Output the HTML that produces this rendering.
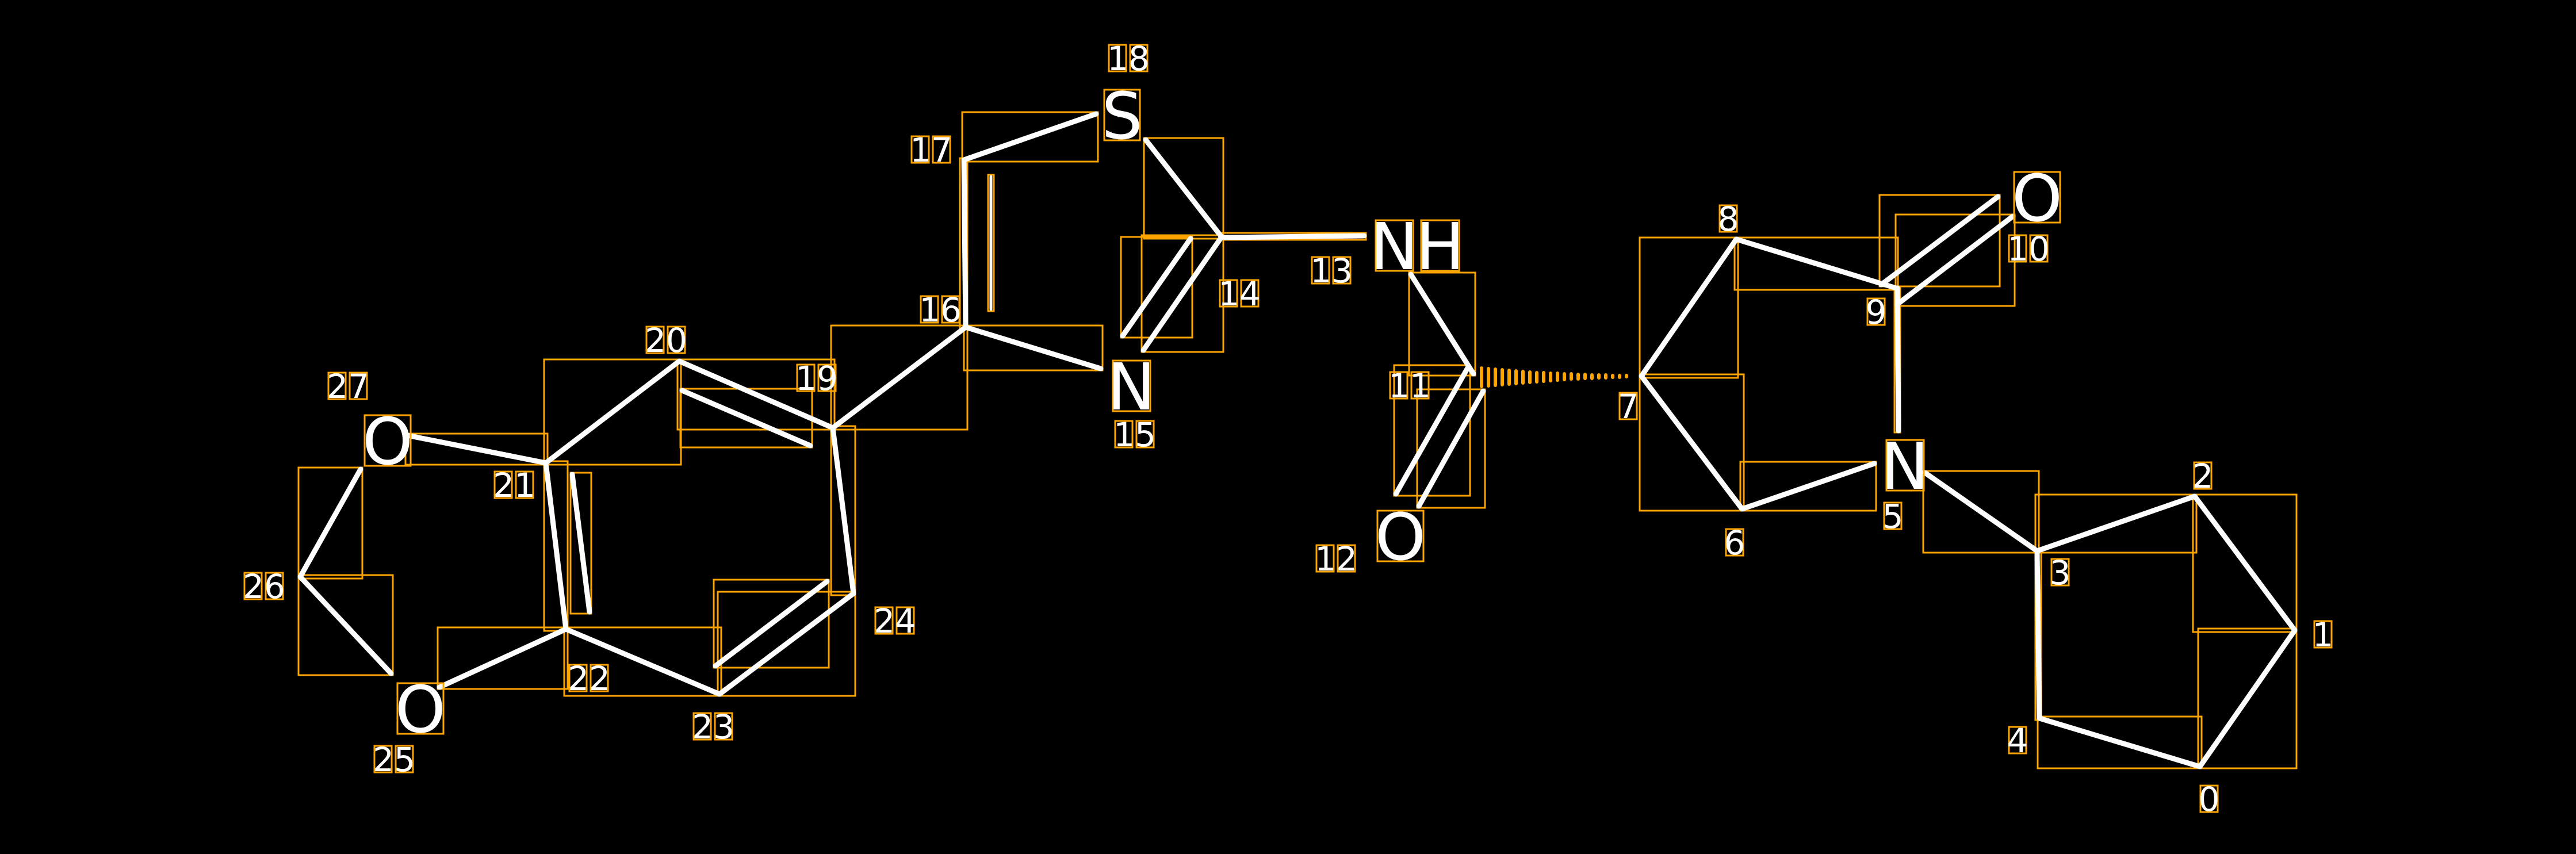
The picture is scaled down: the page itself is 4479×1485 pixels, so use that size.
<!DOCTYPE html>
<html><head><meta charset="utf-8"><style>
html,body{margin:0;padding:0;background:#000}
svg{display:block}
text{font-family:"DejaVu Sans","Liberation Sans",sans-serif;fill:#fff}
.b{stroke:#fff;stroke-width:9;stroke-linecap:round}
.bx{fill:none;stroke:#ffa500;stroke-width:3}
.a{font-size:112px;text-anchor:middle}
.i{font-size:58px;text-anchor:middle}
</style></head><body>
<svg width="4479" height="1485" viewBox="0 0 4479 1485" xmlns="http://www.w3.org/2000/svg">
<rect width="4479" height="1485" fill="#000"/>
<g class="bx">
<rect x="705" y="754" width="247" height="54"/>
<rect x="946" y="625" width="238" height="183"/>
<rect x="1178" y="625" width="273" height="122"/>
<rect x="1183" y="676" width="229" height="102"/>
<rect x="1445" y="741" width="42" height="294"/>
<rect x="1248" y="1029" width="239" height="181"/>
<rect x="1241" y="1008" width="200" height="153"/>
<rect x="981" y="1091" width="273" height="119"/>
<rect x="946" y="802" width="41" height="295"/>
<rect x="992" y="822" width="36" height="245"/>
<rect x="761" y="1091" width="226" height="107"/>
<rect x="519" y="1000" width="164" height="174"/>
<rect x="519" y="813" width="111" height="193"/>
<rect x="1445" y="566" width="237" height="181"/>
<rect x="1669" y="275" width="13" height="297"/>
<rect x="1718" y="304" width="10" height="237"/>
<rect x="1673" y="195" width="236" height="86"/>
<rect x="1989" y="240" width="138" height="175"/>
<rect x="1985" y="409" width="142" height="203"/>
<rect x="1949" y="412" width="124" height="175"/>
<rect x="1676" y="566" width="241" height="78"/>
<rect x="2121" y="405" width="254" height="12"/>
<rect x="2450" y="474" width="115" height="179"/>
<rect x="2424" y="635" width="132" height="227"/>
<rect x="2464" y="677" width="118" height="206"/>
<rect x="2851" y="413" width="171" height="244"/>
<rect x="3016" y="413" width="284" height="91"/>
<rect x="3268" y="339" width="209" height="159"/>
<rect x="3296" y="373" width="207" height="159"/>
<rect x="3294" y="498" width="10" height="254"/>
<rect x="3344" y="819" width="201" height="142"/>
<rect x="3026" y="803" width="236" height="85"/>
<rect x="2851" y="651" width="181" height="237"/>
<rect x="3539" y="860" width="280" height="101"/>
<rect x="3813" y="860" width="180" height="239"/>
<rect x="3822" y="1093" width="171" height="243"/>
<rect x="3543" y="1246" width="285" height="90"/>
<rect x="3539" y="955" width="10" height="297"/>
</g>
<g class="b">
<line x1="708" y1="757" x2="949" y2="805"/>
<line x1="949" y1="805" x2="1181" y2="628"/>
<line x1="1181" y1="628" x2="1448" y2="744"/>
<line x1="1186" y1="679" x2="1409" y2="775"/>
<line x1="1448" y1="744" x2="1484" y2="1032"/>
<line x1="1484" y1="1032" x2="1251" y2="1207"/>
<line x1="1438" y1="1011" x2="1244" y2="1158"/>
<line x1="1251" y1="1207" x2="984" y2="1094"/>
<line x1="984" y1="1094" x2="949" y2="805"/>
<line x1="995" y1="825" x2="1025" y2="1064"/>
<line x1="984" y1="1094" x2="764" y2="1195"/>
<line x1="680" y1="1171" x2="522" y2="1003"/>
<line x1="522" y1="1003" x2="627" y2="816"/>
<line x1="1448" y1="744" x2="1679" y2="569"/>
<line x1="1679" y1="569" x2="1676" y2="278"/>
<line x1="1723" y1="307" x2="1723" y2="538" style="stroke-width:5"/>
<line x1="1676" y1="278" x2="1906" y2="198"/>
<line x1="1992" y1="243" x2="2124" y2="412"/>
<line x1="2124" y1="412" x2="1988" y2="609"/>
<line x1="2070" y1="415" x2="1952" y2="584"/>
<line x1="1679" y1="569" x2="1914" y2="641"/>
<line x1="2124" y1="413" x2="2372" y2="410"/>
<line x1="2453" y1="477" x2="2562" y2="650"/>
<line x1="2553" y1="638" x2="2427" y2="859"/>
<line x1="2579" y1="680" x2="2467" y2="880"/>
<line x1="2854" y1="654" x2="3019" y2="416"/>
<line x1="3019" y1="416" x2="3297" y2="501"/>
<line x1="3271" y1="495" x2="3474" y2="342"/>
<line x1="3299" y1="529" x2="3500" y2="376"/>
<line x1="3299" y1="501" x2="3301" y2="749"/>
<line x1="3347" y1="822" x2="3542" y2="958"/>
<line x1="3029" y1="885" x2="3259" y2="806"/>
<line x1="2854" y1="654" x2="3029" y2="885"/>
<line x1="3542" y1="958" x2="3816" y2="863"/>
<line x1="3816" y1="863" x2="3990" y2="1096"/>
<line x1="3990" y1="1096" x2="3825" y2="1333"/>
<line x1="3825" y1="1333" x2="3546" y2="1249"/>
<line x1="3546" y1="1249" x2="3542" y2="958"/>
</g>
<g stroke="#ffa500" stroke-width="6" stroke-linecap="round">
<line x1="2576" y1="640" x2="2576" y2="672"/>
<line x1="2588" y1="641" x2="2588" y2="671"/>
<line x1="2600" y1="642" x2="2600" y2="670"/>
<line x1="2612" y1="643" x2="2612" y2="669"/>
<line x1="2624" y1="644" x2="2624" y2="668"/>
<line x1="2636" y1="645" x2="2636" y2="667"/>
<line x1="2648" y1="646" x2="2648" y2="666"/>
<line x1="2660" y1="647" x2="2660" y2="665"/>
<line x1="2672" y1="648" x2="2672" y2="664"/>
<line x1="2684" y1="648" x2="2684" y2="663"/>
<line x1="2696" y1="649" x2="2696" y2="662"/>
<line x1="2708" y1="649" x2="2708" y2="661"/>
<line x1="2720" y1="650" x2="2720" y2="660"/>
<line x1="2732" y1="650" x2="2732" y2="659"/>
<line x1="2744" y1="651" x2="2744" y2="659"/>
<line x1="2756" y1="651" x2="2756" y2="658"/>
<line x1="2768" y1="652" x2="2768" y2="658"/>
<line x1="2780" y1="652" x2="2780" y2="657"/>
<line x1="2792" y1="652" x2="2792" y2="657"/>
<line x1="2804" y1="653" x2="2804" y2="656"/>
<line x1="2816" y1="653" x2="2816" y2="656"/>
<line x1="2828" y1="653" x2="2828" y2="655"/>
</g>
<g class="bx">
<rect x="634" y="722" width="80" height="88"/>
<rect x="691" y="1188" width="80" height="88"/>
<rect x="1920" y="156" width="62" height="88"/>
<rect x="1935" y="627" width="65" height="88"/>
<rect x="2392" y="383" width="65" height="88"/>
<rect x="2471" y="383" width="66" height="88"/>
<rect x="2395" y="888" width="80" height="88"/>
<rect x="3502" y="299" width="80" height="88"/>
<rect x="3280" y="765" width="65" height="88"/>
</g>
<g class="a">
<text x="674" y="807">O</text>
<text x="731" y="1273">O</text>
<text x="1951" y="241">S</text>
<text x="1967" y="712">N</text>
<text x="2424" y="468">N</text>
<text x="2504" y="468">H</text>
<text x="2435" y="973">O</text>
<text x="3542" y="384">O</text>
<text x="3312" y="850">N</text>
</g>
<g class="bx">
<rect x="3826" y="1366" width="30" height="46"/>
<rect x="4024" y="1080" width="30" height="46"/>
<rect x="3815" y="804" width="30" height="46"/>
<rect x="3567" y="972" width="30" height="46"/>
<rect x="3493" y="1264" width="30" height="46"/>
<rect x="3276" y="874" width="30" height="46"/>
<rect x="3001" y="920" width="30" height="46"/>
<rect x="2816" y="683" width="30" height="46"/>
<rect x="2990" y="357" width="30" height="46"/>
<rect x="3247" y="519" width="30" height="46"/>
<rect x="3493" y="409" width="30" height="46"/><rect x="3530" y="409" width="30" height="46"/>
<rect x="2417" y="647" width="30" height="46"/><rect x="2454" y="647" width="30" height="46"/>
<rect x="2289" y="948" width="30" height="46"/><rect x="2326" y="948" width="30" height="46"/>
<rect x="2281" y="447" width="30" height="46"/><rect x="2318" y="447" width="30" height="46"/>
<rect x="2121" y="487" width="30" height="46"/><rect x="2158" y="487" width="30" height="46"/>
<rect x="1939" y="732" width="30" height="46"/><rect x="1976" y="732" width="30" height="46"/>
<rect x="1601" y="515" width="30" height="46"/><rect x="1638" y="515" width="30" height="46"/>
<rect x="1585" y="237" width="30" height="46"/><rect x="1622" y="237" width="30" height="46"/>
<rect x="1928" y="78" width="30" height="46"/><rect x="1965" y="78" width="30" height="46"/>
<rect x="1386" y="634" width="30" height="46"/><rect x="1423" y="634" width="30" height="46"/>
<rect x="1124" y="568" width="30" height="46"/><rect x="1161" y="568" width="30" height="46"/>
<rect x="860" y="820" width="30" height="46"/><rect x="897" y="820" width="30" height="46"/>
<rect x="990" y="1156" width="30" height="46"/><rect x="1027" y="1156" width="30" height="46"/>
<rect x="1206" y="1240" width="30" height="46"/><rect x="1243" y="1240" width="30" height="46"/>
<rect x="1522" y="1056" width="30" height="46"/><rect x="1559" y="1056" width="30" height="46"/>
<rect x="651" y="1297" width="30" height="46"/><rect x="688" y="1297" width="30" height="46"/>
<rect x="425" y="996" width="30" height="46"/><rect x="462" y="996" width="30" height="46"/>
<rect x="571" y="648" width="30" height="46"/><rect x="608" y="648" width="30" height="46"/>
</g>
<g class="i">
<text x="3841" y="1410">0</text>
<text x="4039" y="1124">1</text>
<text x="3830" y="848">2</text>
<text x="3582" y="1016">3</text>
<text x="3508" y="1308">4</text>
<text x="3291" y="918">5</text>
<text x="3016" y="964">6</text>
<text x="2831" y="727">7</text>
<text x="3005" y="401">8</text>
<text x="3262" y="563">9</text>
<text x="3527" y="453">10</text>
<text x="2451" y="691">11</text>
<text x="2323" y="992">12</text>
<text x="2315" y="491">13</text>
<text x="2155" y="531">14</text>
<text x="1973" y="776">15</text>
<text x="1635" y="559">16</text>
<text x="1619" y="281">17</text>
<text x="1962" y="122">18</text>
<text x="1420" y="678">19</text>
<text x="1158" y="612">20</text>
<text x="894" y="864">21</text>
<text x="1024" y="1200">22</text>
<text x="1240" y="1284">23</text>
<text x="1556" y="1100">24</text>
<text x="685" y="1341">25</text>
<text x="459" y="1040">26</text>
<text x="605" y="692">27</text>
</g>
</svg>
</body></html>
